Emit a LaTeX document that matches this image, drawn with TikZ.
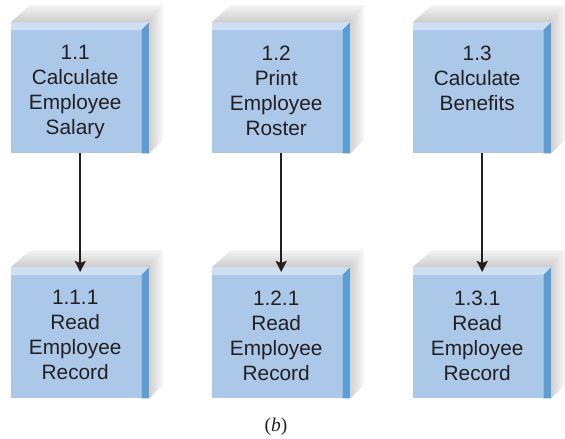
\documentclass[tikz,border=0pt]{standalone}
\usepackage{fontspec}
\setmainfont{Liberation Sans}
\newfontfamily\capfont{Liberation Serif}
\usetikzlibrary{calc,arrows.meta}
\definecolor{frontc}{RGB}{171,200,233}
\definecolor{topc}{RGB}{206,223,242}
\definecolor{sidec}{RGB}{94,157,212}
\definecolor{inkc}{RGB}{35,31,32}
\tikzset{
  front/.style={fill=frontc, draw=none, minimum width=130pt, minimum height=123pt, inner sep=0pt},
  boxtext/.style={font=\fontsize{20.8}{25}\selectfont, align=center, inner sep=0pt, text=inkc},
  flow/.style={draw=inkc, line width=2pt, -{Stealth[length=11pt,width=11pt,inset=2pt]}},
  captext/.style={font=\capfont\fontsize{19.5}{22}\selectfont, text=inkc, inner sep=0pt}
}
\newcommand\dfdbox[4]{%
  \node[front, anchor=north west] (#1) at (#2,#3) {};
  \node[boxtext, anchor=north] (#1t) at ($(#1.north)+(-1,15.3)$) {#4};
  \fill[topc] (#1.north west) -- ($(#1.north west)+(0,-8)$) -- ($(#1.north east)+(8,-8)$) -- (#1.north east) -- cycle;
  \fill[sidec] (#1.north east) -- ($(#1.north east)+(8,-8)$) -- ($(#1.south east)+(8,0)$) -- (#1.south east) -- cycle;
  \shade[top color=gray!8, bottom color=gray!40] ($(#1.north west)+(0,-8)$) -- ($(#1.north west)+(19,-25)$) -- ($(#1.north east)+(22,-25)$) -- ($(#1.north east)+(8,-8)$) -- cycle;
  \shade[left color=gray!36, right color=gray!4] ($(#1.north east)+(8,-8)$) -- ($(#1.north east)+(22,-25)$) -- ($(#1.south east)+(22,-14)$) -- ($(#1.south east)+(8,0)$) -- cycle;
}
\begin{document}
\begin{tikzpicture}[x=1pt,y=-1pt]
  \useasboundingbox (0,0) rectangle (565,439);
  \dfdbox{a}{11}{30}{1.1\\Calculate\\Employee\\Salary}
  \dfdbox{b}{212}{30}{1.2\\Print\\Employee\\Roster}
  \dfdbox{c}{413}{30}{1.3\\Calculate\\Benefits}
  \dfdbox{d}{11}{275}{1.1.1\\Read\\Employee\\Record}
  \dfdbox{e}{212}{275}{1.2.1\\Read\\Employee\\Record}
  \dfdbox{f}{413}{275}{1.3.1\\Read\\Employee\\Record}
  \draw[flow] ([xshift=4pt]a.south) -- ([xshift=4pt,yshift=3pt]d.north);
  \draw[flow] ([xshift=4pt]b.south) -- ([xshift=4pt,yshift=3pt]e.north);
  \draw[flow] ([xshift=4pt]c.south) -- ([xshift=4pt,yshift=3pt]f.north);
  \node[captext] (cap) at (276,427) {(\textit{b})};
\end{tikzpicture}
\end{document}
